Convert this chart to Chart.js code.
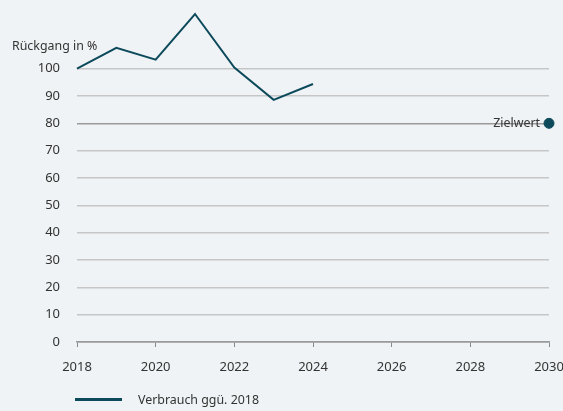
<!DOCTYPE html>
<html>
<head>
<meta charset="utf-8">
<script src="https://cdn.jsdelivr.net/npm/chart.js@4/dist/chart.umd.min.js"></script>
<style>
  html, body { margin: 0; padding: 0; background: #eff3f5; }
  #wrap { width: 563px; height: 411px; }
</style>
</head>
<body>
<div id="wrap"><canvas id="chart"></canvas></div>
<script>
// data
const years = [2018, 2019, 2020, 2021, 2022, 2023, 2024];
const verbrauch = [100, 107.6, 103.3, 120, 100.4, 88.6, 94.4];
const zielJahr = 2030;
const zielWert = 80;
const yTicks = [0, 10, 20, 30, 40, 50, 60, 70, 80, 90, 100];

const teal = "#0c4a5b";
const textColor = "#333";
const font = "Noto Sans";

// axis title, target label and the legend at the bottom
const extras = {
  id: "extras",
  afterDraw(chart) {
    const ctx = chart.ctx;
    const x = chart.scales.x, y = chart.scales.y;
    ctx.save();
    ctx.fillStyle = textColor;
    ctx.font = "12.4px '" + font + "'";
    ctx.textBaseline = "middle";
    ctx.textAlign = "left";
    ctx.fillText("Rückgang in %", 12, 46);

    ctx.textAlign = "right";
    ctx.fillText("Zielwert", x.getPixelForValue(zielJahr) - 9, y.getPixelForValue(zielWert));

    // legend
    ctx.fillStyle = teal;
    ctx.fillRect(75, 398, 47, 3);
    ctx.fillStyle = textColor;
    ctx.textAlign = "left";
    ctx.fillText("Verbrauch ggü. 2018", 138, 400);
    ctx.restore();
  }
};

new Chart(document.getElementById("chart"), {
  type: "line",
  data: {
    datasets: [
      {
        label: "Verbrauch ggü. 2018",
        data: years.map((yr, i) => ({ x: yr, y: verbrauch[i] })),
        borderColor: teal,
        backgroundColor: teal,
        borderWidth: 2,
        pointRadius: 0,
        tension: 0,
        clip: false
      },
      {
        label: "Zielwert",
        data: [{ x: zielJahr, y: zielWert }],
        borderColor: teal,
        backgroundColor: teal,
        pointRadius: 5,
        pointHoverRadius: 5,
        showLine: false,
        clip: false
      }
    ]
  },
  options: {
    responsive: true,
    maintainAspectRatio: false,
    animation: false,
    layout: { padding: { left: 35, top: 14, bottom: 32, right: 14 } },
    plugins: {
      legend: { display: false },
      tooltip: { enabled: false }
    },
    scales: {
      x: {
        type: "linear",
        min: 2018,
        max: 2030,
        afterFit: (axis) => {
          axis.paddingLeft = 0;
          axis.paddingRight = 0;
          axis.height = 37;
        },
        ticks: {
          stepSize: 2,
          color: textColor,
          font: { family: font, size: 13 },
          padding: 12,
          callback: (v) => String(v)
        },
        grid: {
          drawOnChartArea: false,
          drawTicks: true,
          tickLength: 5,
          color: "#8a8a8a"
        },
        border: { color: "#9a9a9a", width: 1.5 }
      },
      y: {
        min: 0,
        max: 120,
        afterBuildTicks: (axis) => {
          axis.ticks = yTicks.map((v) => ({ value: v }));
        },
        afterFit: (axis) => {
          axis.width = 42;
          axis.paddingTop = 0;
          axis.paddingBottom = 0;
        },
        ticks: {
          color: textColor,
          font: { family: font, size: 13 },
          padding: 17
        },
        grid: {
          drawTicks: false,
          color: (c) => (c.tick && (c.tick.value === 0 || c.tick.value === 80) ? "#9a9a9a" : "#c6c6c6"),
          lineWidth: 1.5
        },
        border: { display: false }
      }
    }
  },
  plugins: [extras]
});
</script>
</body>
</html>
